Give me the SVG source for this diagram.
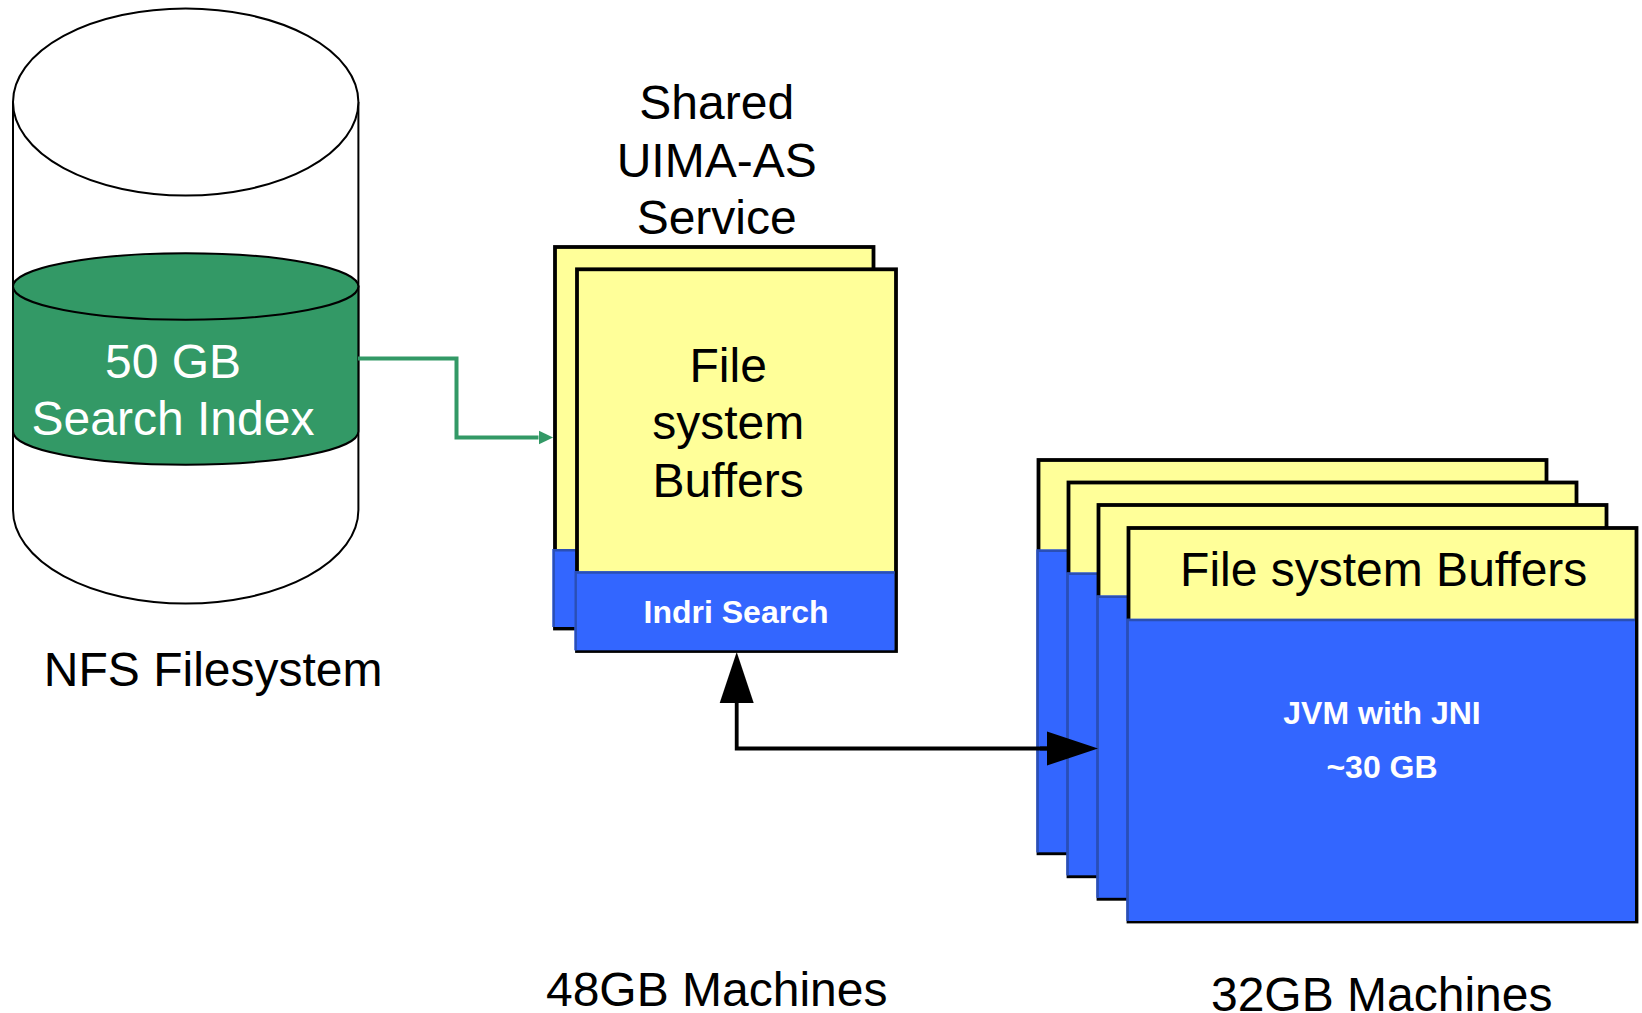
<svg xmlns="http://www.w3.org/2000/svg" width="1642" height="1013" viewBox="0 0 1642 1013">
<style>
text{font-family:"Liberation Sans",Arial,sans-serif;font-size:48px;text-anchor:middle;fill:#000}
.w{fill:#fff}
.b{font-weight:bold;font-size:32px;fill:#fff}
.cyl{fill:#fff;stroke:#000;stroke-width:2}
.grn{fill:#339966;stroke:#000;stroke-width:2}
.y{fill:#ffff99;stroke:#000;stroke-width:3.8}
.bl{fill:#3366ff}
.be{fill:none;stroke:#2a4fb5;stroke-width:2.4}
</style>
<defs>
<marker id="ga" markerUnits="userSpaceOnUse" markerWidth="15" markerHeight="16" refX="0" refY="8" orient="auto"><path d="M0 1L14.6 8L0 15Z" fill="#339966"/></marker>
<marker id="ka" markerUnits="userSpaceOnUse" markerWidth="52" markerHeight="36" refX="0" refY="18" orient="auto"><path d="M0 1L51 18L0 35Z" fill="#000"/></marker>
</defs>
<rect width="1642" height="1013" fill="#fff"/>
<g id="nfs">
<path class="cyl" d="M13 102V510A172.7 93.5 0 0 0 358.4 510V102"/>
<ellipse class="cyl" cx="185.7" cy="102" rx="172.7" ry="93.5"/>
<path class="grn" d="M13 286.5V431.4A172.7 33.3 0 0 0 358.4 431.4V286.5Z"/>
<ellipse class="grn" cx="185.7" cy="286.5" rx="172.7" ry="33.3"/>
<text class="w" x="173" y="378">50 GB</text>
<text class="w" x="173" y="435">Search Index</text>
<text x="213.2" y="686">NFS Filesystem</text>
</g>
<g id="shared-back">
<rect class="y" x="555" y="247" width="318.5" height="381.5"/>
<rect class="bl" x="552.5" y="549" width="319" height="78"/>
<path class="be" d="M553.7 627V550.2H600"/>
</g>
<g id="shared-front">
<rect class="y" x="577" y="269.3" width="319" height="381.7"/>
<rect class="bl" x="574.5" y="571.3" width="320" height="79"/>
<path class="be" d="M575.7 650.3V572.5H894.5"/>
<text x="728.2" y="381.6">File</text>
<text x="728.2" y="439">system</text>
<text x="728.2" y="496.8">Buffers</text>
<text class="b" x="736" y="623">Indri Search</text>
</g>
<g id="shared-label">
<text x="716.7" y="119">Shared</text>
<text x="716.7" y="177">UIMA-AS</text>
<text x="716.7" y="234">Service</text>
<text x="716.7" y="1006">48GB Machines</text>
</g>
<g id="m32-1">
<rect class="y" x="1038.5" y="460" width="508" height="393.3"/>
<rect class="bl" x="1036.5" y="549.5" width="508.5" height="302.8"/>
<path class="be" d="M1037.7 852.3V550.7H1070"/>
</g>
<g id="m32-2">
<rect class="y" x="1068.5" y="482.5" width="508" height="393.8"/>
<rect class="bl" x="1066.5" y="572.5" width="508.5" height="302.8"/>
<path class="be" d="M1067.7 875.3V573.7H1100"/>
</g>
<g id="m32-3">
<rect class="y" x="1098.5" y="505" width="508" height="393.8"/>
<rect class="bl" x="1096.5" y="595.5" width="508.5" height="302.3"/>
<path class="be" d="M1097.7 897.8V596.7H1130"/>
</g>
<g id="m32-4">
<rect class="y" x="1128.5" y="528" width="508" height="393.5"/>
<rect class="bl" x="1126.5" y="618.8" width="508.5" height="302.2"/>
<path class="be" d="M1127.7 921V620H1635"/>
<text x="1383.7" y="586">File system Buffers</text>
<text class="b" x="1382" y="723.6">JVM with JNI</text>
<text class="b" x="1382" y="777.6">~30 GB</text>
<text x="1381.7" y="1011">32GB Machines</text>
</g>
<g id="connectors">
<path d="M358 358.5H456.5V437.5H538.5" fill="none" stroke="#339966" stroke-width="4" marker-end="url(#ga)"/>
<path d="M1047 748.5H736.7V703" fill="none" stroke="#000" stroke-width="3.8" marker-end="url(#ka)"/>
<path d="M1040 748.5H1047" fill="none" stroke="#000" stroke-width="3.8" marker-end="url(#ka)"/>
</g>
</svg>
